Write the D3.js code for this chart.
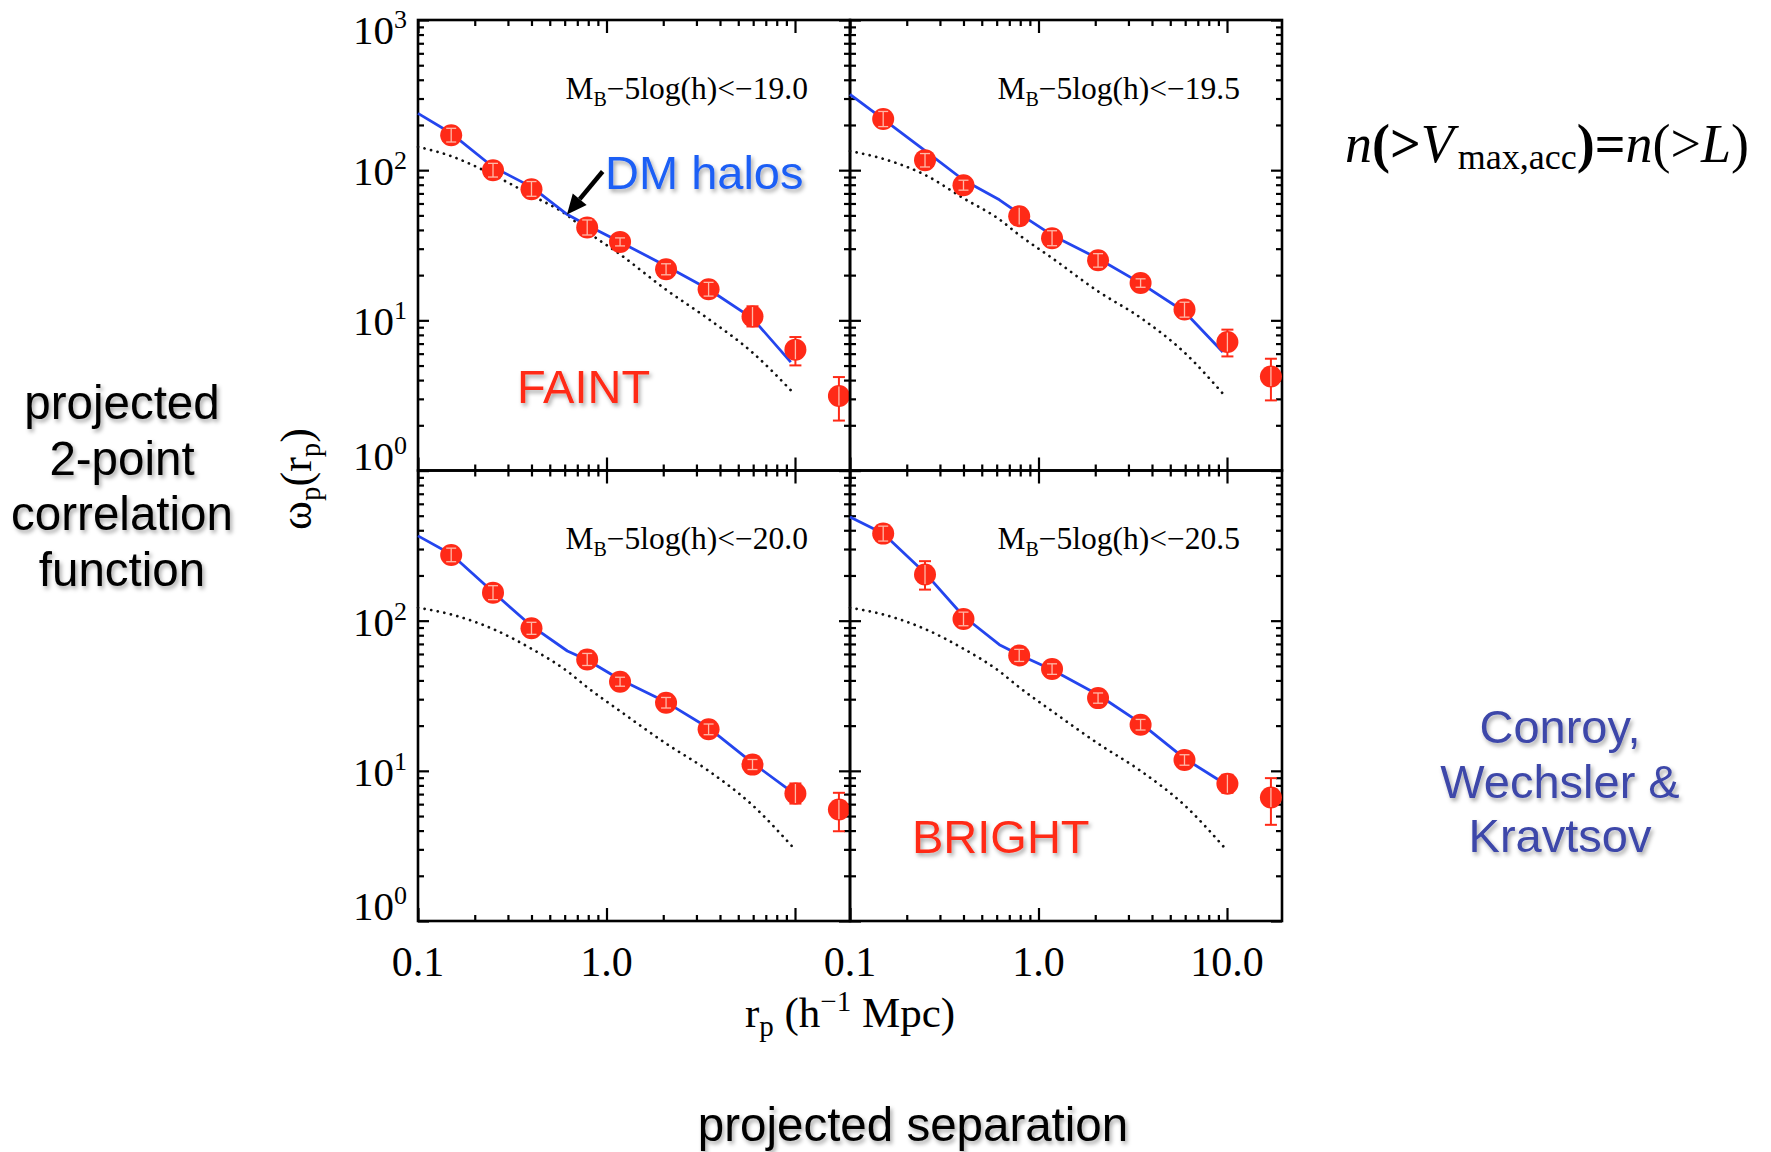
<!DOCTYPE html>
<html><head><meta charset="utf-8">
<script src="https://cdn.jsdelivr.net/npm/d3@7"></script>
<style>body{margin:0;background:#fff}svg{display:block}</style>
</head><body><svg id="c" width="1771" height="1152"></svg>
<script>
// ---------------- DATA ----------------
const rPoints = [0.15, 0.25, 0.40, 0.79, 1.18, 2.07, 3.48, 5.95, 10.05, 17.1];
const thresholds = ["\u221219.0", "\u221219.5", "\u221220.0", "\u221220.5"];

const wpA = [171, 100, 74.7, 41.5, 33.3, 21.9, 16.1, 10.6, 6.38, 3.13];
const loA = [154, 90, 67, 37, 31.3, 20.1, 14.5, 9.1, 5.01, 2.15];
const hiA = [190, 111, 84, 46.6, 35.4, 23.8, 17.9, 12.4, 7.74, 4.19];

const wpB = [219, 116.6, 79.4, 49.4, 35.2, 25.1, 17.7, 11.8, 7.17, 4.23];
const loB = [195, 105, 73.6, 43.5, 31.4, 22.6, 16.6, 10.5, 5.75, 2.93];
const hiB = [246, 129, 85.7, 56.1, 39.5, 27.8, 18.9, 13.2, 8.67, 5.55];

const wpC = [274, 153.7, 88.9, 55.2, 39.2, 28.4, 18.9, 11.0, 7.06, 5.52];
const loC = [247, 138, 81.1, 50.3, 36.6, 26.2, 17.4, 10.2, 6.05, 3.96];
const hiC = [304, 171, 97.5, 60.5, 42.0, 30.8, 20.5, 11.9, 8.24, 7.14];

const wpD = [380, 202.7, 102.6, 58.7, 47.6, 30.5, 20.3, 11.8, 8.2, 6.64];
const loD = [339, 161, 92.5, 53.5, 43.9, 28.2, 18.7, 10.9, 7.14, 4.37];
const hiD = [426, 249, 114, 64.4, 51.6, 33.0, 22.0, 12.8, 9.41, 8.94];

// DM halo model (blue solid)
const rModel = [0.1, 0.15, 0.25, 0.40, 0.62, 0.79, 1.18, 2.07, 3.48, 5.95, 9.5];
const modelA = [239, 176, 105, 77.4, 50.6, 43.0, 33.3, 23.0, 16.1, 10.3, 5.27];
const modelB = [320, 219, 135, 86, 63.5, 51.4, 36.9, 25.8, 17.7, 11.4, 6.15];
const modelC = [367, 277, 155, 92.2, 62.8, 54.7, 40.6, 28.7, 19.3, 11.3, 7.33];
const modelD = [491, 380, 208, 107, 69.2, 59.3, 47.1, 32.1, 20.8, 12.1, 8.36];

// dark matter (dotted)
const rDM = [0.1, 0.15, 0.25, 0.40, 0.62, 0.79, 1.18, 2.07, 3.48, 5.95, 9.7];
const dmA = [143, 124, 93, 68, 50, 39, 27.5, 16, 10.2, 6.1, 3.33];
const dmB = [134, 119, 93, 65, 47, 37, 26, 15.6, 10.4, 6.1, 3.16];
const dmC = [122, 110, 88, 65, 46, 36, 25, 15.2, 10.0, 5.9, 3.12];
const dmD = [122, 110, 88, 65, 46, 36, 25, 15.2, 10.0, 5.9, 3.08];

const xMajor = [0.1, 1, 10];
const xMinor = [0.2,0.3,0.4,0.5,0.6,0.7,0.8,0.9,2,3,4,5,6,7,8,9];
const yMajor = [1, 10, 100, 1000];
const yMinor = [2,3,4,5,6,7,8,9,20,30,40,50,60,70,80,90,200,300,400,500,600,700,800,900];
const xTickLabels = ["0.1", "1.0", "10.0"];
const yTickExp = ["0", "1", "2", "3"];

// ---------------- LAYOUT ----------------
const X0 = 418, PW = 432, Y0 = 20, PH = 450.5;
const XMAX = Math.pow(10, -1 + PW / 188.5);
const SERIF = "'Liberation Serif','Times New Roman',serif";
const SANS = "'Liberation Sans',Arial,sans-serif";
const RED = "#ff2a17", BLUE = "#2445ee";

const svg = d3.select("#c");
svg.append("rect").attr("width", 1771).attr("height", 1152).attr("fill", "#fff");
const defs = svg.append("defs");
defs.append("filter").attr("id", "shadow").attr("x", "-10%").attr("y", "-20%")
  .attr("width", "130%").attr("height", "160%")
  .append("feDropShadow").attr("dx", 2).attr("dy", 3).attr("stdDeviation", 2)
  .attr("flood-color", "#000").attr("flood-opacity", 0.35);

const panels = [
  {col:0,row:0,w:wpA,lo:loA,hi:hiA,m:modelA,dm:dmA,thr:thresholds[0]},
  {col:1,row:0,w:wpB,lo:loB,hi:hiB,m:modelB,dm:dmB,thr:thresholds[1]},
  {col:0,row:1,w:wpC,lo:loC,hi:hiC,m:modelC,dm:dmC,thr:thresholds[2]},
  {col:1,row:1,w:wpD,lo:loD,hi:hiD,m:modelD,dm:dmD,thr:thresholds[3]}
];

const scales = [];
panels.forEach((p, i) => {
  const left = X0 + p.col * PW, top = Y0 + p.row * PH;
  const x = d3.scaleLog().domain([0.1, XMAX]).range([left, left + PW]);
  const y = d3.scaleLog().domain([1, 1000]).range([top + PH, top]);
  scales.push({x, y});
  const g = svg.append("g");

  const addAxis = (axis, tr) => {
    const a = g.append("g").attr("transform", tr).call(axis);
    a.select(".domain").remove();
    a.selectAll("line").attr("stroke", "#000").attr("stroke-width", 2.2);
  };
  addAxis(d3.axisBottom(x).tickValues(xMajor.filter(v => v < XMAX)).tickSizeInner(-13).tickSizeOuter(0).tickFormat(""), `translate(0,${top+PH})`);
  addAxis(d3.axisBottom(x).tickValues(xMinor).tickSizeInner(-6).tickSizeOuter(0).tickFormat(""), `translate(0,${top+PH})`);
  addAxis(d3.axisTop(x).tickValues(xMajor.filter(v => v < XMAX)).tickSizeInner(-13).tickSizeOuter(0).tickFormat(""), `translate(0,${top})`);
  addAxis(d3.axisTop(x).tickValues(xMinor).tickSizeInner(-6).tickSizeOuter(0).tickFormat(""), `translate(0,${top})`);
  addAxis(d3.axisLeft(y).tickValues(yMajor).tickSizeInner(-11).tickSizeOuter(0).tickFormat(""), `translate(${left},0)`);
  addAxis(d3.axisLeft(y).tickValues(yMinor).tickSizeInner(-6).tickSizeOuter(0).tickFormat(""), `translate(${left},0)`);
  addAxis(d3.axisRight(y).tickValues(yMajor).tickSizeInner(-11).tickSizeOuter(0).tickFormat(""), `translate(${left+PW},0)`);
  addAxis(d3.axisRight(y).tickValues(yMinor).tickSizeInner(-6).tickSizeOuter(0).tickFormat(""), `translate(${left+PW},0)`);

  g.append("rect").attr("x", left).attr("y", top).attr("width", PW).attr("height", PH)
    .attr("fill", "none").attr("stroke", "#000").attr("stroke-width", 2.6);

  // dotted DM
  g.append("path").datum(d3.zip(rDM, p.dm))
    .attr("d", d3.line().x(d => x(d[0])).y(d => y(d[1])).curve(d3.curveMonotoneX))
    .attr("fill", "none").attr("stroke", "#111").attr("stroke-width", 2.7)
    .attr("stroke-linecap", "round").attr("stroke-dasharray", "0.1 6.6");

  // model line
  g.append("path").datum(d3.zip(rModel, p.m))
    .attr("d", d3.line().x(d => x(d[0])).y(d => y(d[1])))
    .attr("fill", "none").attr("stroke", BLUE).attr("stroke-width", 2.8)
    .attr("stroke-linejoin", "round");

  // points with error bars
  const R = 11, cap = 6;
  rPoints.forEach((r, j) => {
    const cx = x(r), cy = y(p.w[j]), yl = y(p.lo[j]), yh = y(p.hi[j]);
    const pg = g.append("g");
    pg.append("line").attr("x1", cx).attr("x2", cx).attr("y1", yh).attr("y2", yl)
      .attr("stroke", RED).attr("stroke-width", 2);
    [yh, yl].forEach(yy => pg.append("line").attr("x1", cx - cap).attr("x2", cx + cap)
      .attr("y1", yy).attr("y2", yy).attr("stroke", RED).attr("stroke-width", 2));
    pg.append("circle").attr("cx", cx).attr("cy", cy).attr("r", R).attr("fill", RED);
    const a = Math.max(yh, cy - R + 1.5), b = Math.min(yl, cy + R - 1.5);
    const LIGHT = "#ffb9a8";
    pg.append("line").attr("x1", cx).attr("x2", cx).attr("y1", a).attr("y2", b)
      .attr("stroke", LIGHT).attr("stroke-width", 1.3);
    [yh, yl].forEach(yy => {
      if (Math.abs(yy - cy) < R - 3) pg.append("line").attr("x1", cx - cap + 1).attr("x2", cx + cap - 1)
        .attr("y1", yy).attr("y2", yy).attr("stroke", LIGHT).attr("stroke-width", 1.3);
    });
  });

  // panel label
  const t = g.append("text").attr("x", left + PW - 42).attr("y", top + 78.5)
    .attr("text-anchor", "end").attr("font-family", SERIF).attr("font-size", 31.5).attr("fill", "#000");
  t.append("tspan").text("M");
  t.append("tspan").attr("font-size", 20).attr("dy", 7).text("B");
  t.append("tspan").attr("dy", -7).text("\u22125log(h)<" + p.thr);

  // y tick labels
  if (p.col === 0) {
    yMajor.forEach((v, k) => {
      if (p.row === 1 && v === 1000) return;
      const off = v === 1000 ? 24 : (v === 1 ? -1 : 15);
      const by = y(v) + off;
      g.append("text").attr("x", X0 - 24).attr("y", by).attr("text-anchor", "end")
        .attr("font-family", SERIF).attr("font-size", 41).text("10");
      g.append("text").attr("x", X0 - 24).attr("y", by - 16).attr("text-anchor", "start")
        .attr("font-family", SERIF).attr("font-size", 26).text(yTickExp[k]);
    });
  }
  // x tick labels
  if (p.row === 1) {
    xMajor.forEach((v, k) => {
      if (p.col === 0 && v === 10) return;
      g.append("text").attr("x", x(v)).attr("y", 976).attr("text-anchor", "middle")
        .attr("font-family", SERIF).attr("font-size", 42).text(xTickLabels[k]);
    });
  }
});

// axis titles
const xt = svg.append("text").attr("x", X0 + PW).attr("y", 1027).attr("text-anchor", "middle")
  .attr("font-family", SERIF).attr("font-size", 43);
xt.append("tspan").text("r");
xt.append("tspan").attr("font-size", 29).attr("dy", 9).text("p");
xt.append("tspan").attr("dy", -9).text(" (h");
xt.append("tspan").attr("font-size", 29).attr("dy", -16).text("\u22121");
xt.append("tspan").attr("dy", 16).text(" Mpc)");

const yt = svg.append("text").attr("transform", "translate(311,479) rotate(-90)")
  .attr("text-anchor", "middle").attr("font-family", SERIF).attr("font-size", 44);
yt.append("tspan").text("\u03c9");
yt.append("tspan").attr("font-size", 29).attr("dy", 9).text("p");
yt.append("tspan").attr("dy", -9).text("(r");
yt.append("tspan").attr("font-size", 29).attr("dy", 9).text("p");
yt.append("tspan").attr("dy", -9).text(")");

// annotations in panel A
const sA = scales[0];
svg.append("text").attr("x", 605).attr("y", 189).attr("font-family", SANS).attr("font-size", 47)
  .attr("fill", "#1d5ef5").attr("filter", "url(#shadow)").text("DM halos");
{
  const x1 = sA.x(0.954), y1 = sA.y(98), x2 = sA.x(0.617), y2 = sA.y(50.6);
  const L = Math.hypot(x2 - x1, y2 - y1), ux = (x2 - x1) / L, uy = (y2 - y1) / L;
  const bx = x2 - 20 * ux, by = y2 - 20 * uy, nx = -uy, ny = ux;
  svg.append("line").attr("x1", x1).attr("y1", y1).attr("x2", bx).attr("y2", by)
    .attr("stroke", "#000").attr("stroke-width", 4.5);
  svg.append("path").attr("d", `M${x2},${y2}L${bx + 9 * nx},${by + 9 * ny}L${bx - 9 * nx},${by - 9 * ny}Z`)
    .attr("fill", "#000");
}
svg.append("text").attr("x", 517).attr("y", 403).attr("font-family", SANS).attr("font-size", 47)
  .attr("fill", RED).attr("filter", "url(#shadow)").text("FAINT");
svg.append("text").attr("x", 912).attr("y", 853).attr("font-family", SANS).attr("font-size", 47)
  .attr("fill", RED).attr("filter", "url(#shadow)").text("BRIGHT");

// left description
const leftLines = ["projected", "2-point", "correlation", "function"];
const leftBase = [419, 474.5, 530, 585.5];
leftLines.forEach((s, i) => svg.append("text").attr("x", 122).attr("y", leftBase[i])
  .attr("text-anchor", "middle").attr("font-family", SANS).attr("font-size", 47.5)
  .attr("fill", "#000").attr("filter", "url(#shadow)").text(s));

// bottom description
svg.append("text").attr("x", 913).attr("y", 1141).attr("text-anchor", "middle")
  .attr("font-family", SANS).attr("font-size", 47.5).attr("fill", "#000")
  .attr("filter", "url(#shadow)").text("projected separation");

// authors
const authLines = ["Conroy,", "Wechsler &", "Kravtsov"];
const authBase = [743, 798, 852];
authLines.forEach((s, i) => svg.append("text").attr("x", 1560).attr("y", authBase[i])
  .attr("text-anchor", "middle").attr("font-family", SANS).attr("font-size", 47)
  .attr("fill", "#3d47a9").attr("filter", "url(#shadow)").text(s));

// abundance matching formula
const f = svg.append("text").attr("x", 1345).attr("y", 162).attr("font-family", SERIF)
  .attr("font-size", 54).attr("fill", "#000");
f.append("tspan").attr("font-style", "italic").text("n");
f.append("tspan").attr("font-weight", "bold").text("(>");
f.append("tspan").attr("font-style", "italic").text("V");
f.append("tspan").attr("font-size", 36).attr("dx", 4).attr("dy", 7).text("max,acc");
f.append("tspan").attr("dy", -7).attr("font-weight", "bold").text(")=");
f.append("tspan").attr("font-style", "italic").text("n");
f.append("tspan").text("(>");
f.append("tspan").attr("font-style", "italic").text("L");
f.append("tspan").text(")");
</script></body></html>
